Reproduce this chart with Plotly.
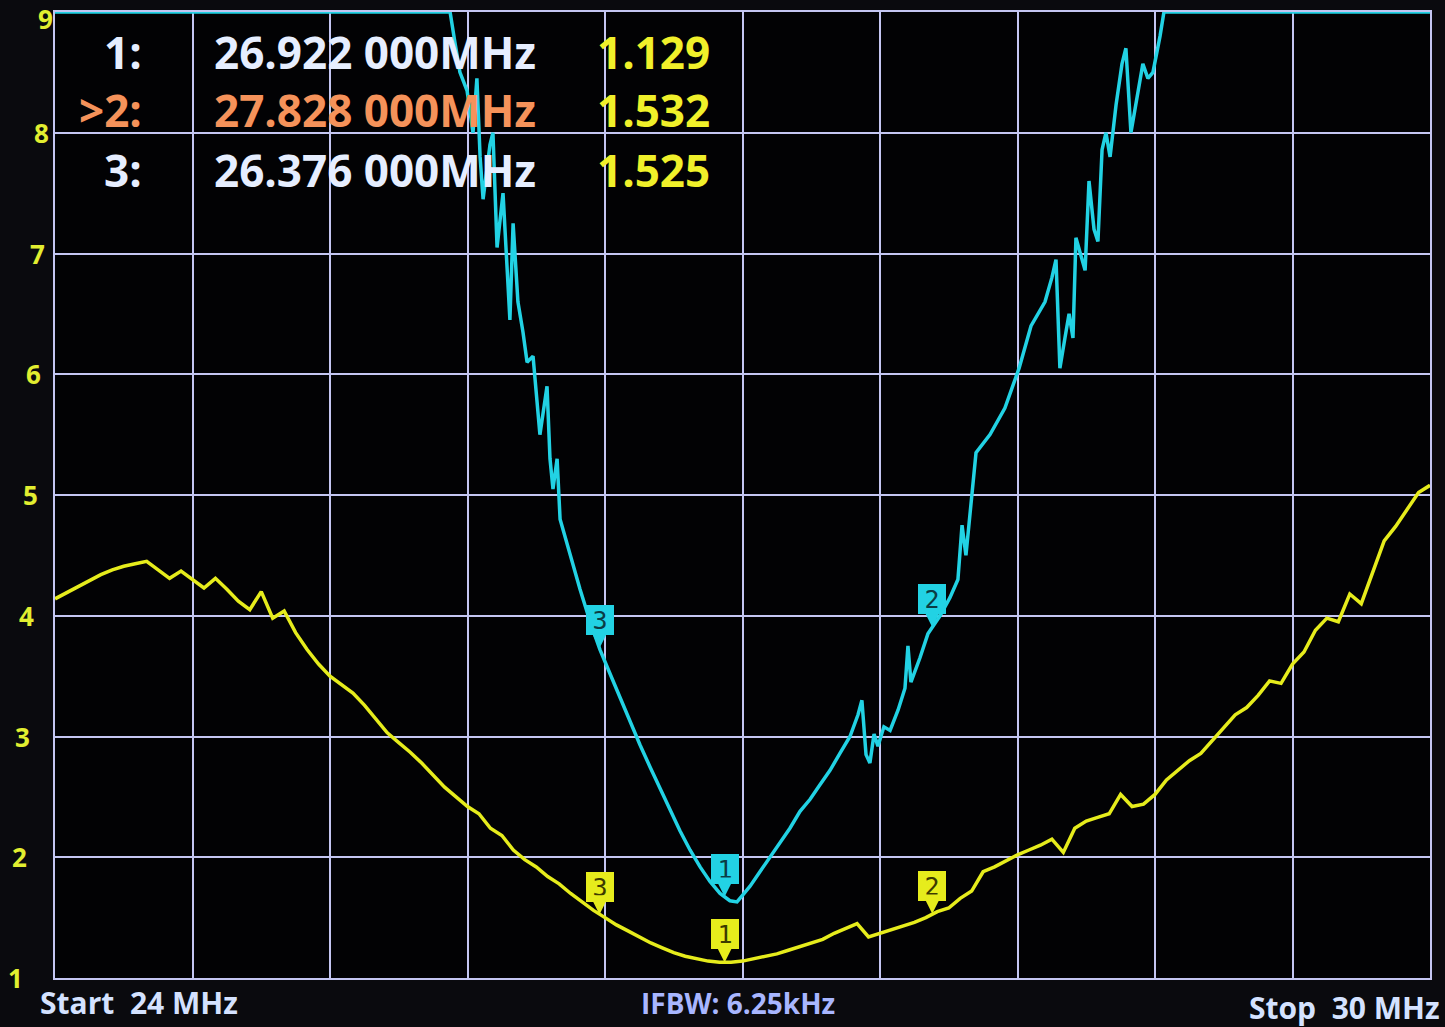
import plotly.graph_objects as go
import numpy as np

# ---------------- data ----------------
# Yellow trace (VSWR), 24-30 MHz, step 0.05 MHz
yellow_freq = [round(24 + 0.05 * i, 2) for i in range(121)]
yellow_vals = [
    4.14, 4.19, 4.24, 4.29, 4.34, 4.38, 4.41, 4.43, 4.45, 4.38,
    4.31, 4.37, 4.30, 4.23, 4.31, 4.22, 4.12, 4.05, 4.20, 3.98,
    4.04, 3.86, 3.72, 3.60, 3.50, 3.43, 3.36, 3.26, 3.15, 3.03,
    2.95, 2.87, 2.78, 2.68, 2.58, 2.50, 2.42, 2.36, 2.24, 2.18,
    2.06, 1.98, 1.92, 1.84, 1.78, 1.70, 1.63, 1.56, 1.50, 1.44,
    1.39, 1.34, 1.29, 1.25, 1.21, 1.18, 1.16, 1.14, 1.13, 1.13,
    1.14, 1.16, 1.18, 1.20, 1.23, 1.26, 1.29, 1.32, 1.37, 1.41,
    1.45, 1.34, 1.37, 1.40, 1.43, 1.46, 1.50, 1.55, 1.58, 1.66,
    1.72, 1.88, 1.92, 1.97, 2.02, 2.06, 2.10, 2.15, 2.04, 2.24,
    2.30, 2.33, 2.36, 2.52, 2.42, 2.44, 2.52, 2.64, 2.72, 2.80,
    2.86, 2.97, 3.08, 3.18, 3.24, 3.34, 3.46, 3.44, 3.60, 3.70,
    3.88, 3.98, 3.95, 4.18, 4.10, 4.36, 4.62, 4.74, 4.88, 5.02,
    5.08,
]

# Cyan trace (clipped at top of the scale)
cyan_freq = [
    24.000, 25.724, 25.745, 25.767, 25.798, 25.824, 25.841, 25.855, 25.868, 25.898,
    25.911, 25.929, 25.955, 25.972, 25.985, 25.999, 26.020, 26.042, 26.060, 26.086,
    26.103, 26.116, 26.147, 26.160, 26.173, 26.191, 26.204, 26.247, 26.291, 26.335,
    26.378, 26.422, 26.465, 26.509, 26.553, 26.596, 26.640, 26.684, 26.727, 26.771,
    26.815, 26.858, 26.902, 26.945, 26.976, 26.998, 27.033, 27.076, 27.120, 27.164,
    27.207, 27.251, 27.295, 27.338, 27.382, 27.425, 27.469, 27.504, 27.521, 27.539,
    27.556, 27.574, 27.591, 27.617, 27.644, 27.679, 27.709, 27.722, 27.735, 27.774,
    27.809, 27.862, 27.905, 27.940, 27.958, 27.975, 28.001, 28.019, 28.080, 28.145,
    28.207, 28.259, 28.320, 28.350, 28.368, 28.385, 28.407, 28.425, 28.442, 28.455,
    28.495, 28.512, 28.534, 28.551, 28.569, 28.586, 28.604, 28.630, 28.656, 28.673,
    28.695, 28.721, 28.747, 28.769, 28.791, 28.822, 28.839, 30.000,
]
cyan_vals = [
    9.00, 9.00, 8.75, 8.50, 8.35, 8.00, 8.45, 7.80, 7.45, 7.90,
    8.00, 7.05, 7.50, 6.90, 6.45, 7.25, 6.60, 6.35, 6.10, 6.15,
    5.75, 5.50, 5.90, 5.30, 5.05, 5.30, 4.80, 4.50, 4.22, 3.95,
    3.72, 3.52, 3.32, 3.12, 2.93, 2.75, 2.57, 2.40, 2.22, 2.06,
    1.92, 1.80, 1.70, 1.64, 1.63, 1.68, 1.76, 1.88, 2.00, 2.12,
    2.24, 2.38, 2.48, 2.60, 2.72, 2.86, 3.00, 3.18, 3.30, 2.85,
    2.78, 3.02, 2.92, 3.08, 3.05, 3.22, 3.40, 3.75, 3.45, 3.65,
    3.85, 4.00, 4.15, 4.30, 4.75, 4.50, 5.00, 5.35, 5.50, 5.72,
    6.05, 6.40, 6.60, 6.80, 6.95, 6.05, 6.30, 6.50, 6.30, 7.13,
    6.86, 7.60, 7.20, 7.10, 7.86, 8.00, 7.80, 8.23, 8.57, 8.70,
    8.00, 8.30, 8.57, 8.45, 8.50, 8.80, 9.00, 9.00,
]

# Markers
marker_ids = ["1", "2", "3"]
marker_freq = [26.922, 27.828, 26.376]
marker_vswr = [1.129, 1.532, 1.525]
marker_freq_text = ["26.922 000MHz", "27.828 000MHz", "26.376 000MHz"]
marker_val_text = ["1.129", "1.532", "1.525"]
active_marker = "2"

y_ticks = [1, 2, 3, 4, 5, 6, 7, 8, 9]
start_text = "Start  24 MHz"
ifbw_text = "IFBW: 6.25kHz"
stop_text = "Stop  30 MHz"

# ---------------- layout helpers ----------------
W, H = 1445, 1027
ML, MR, MT, MB = 55, 15, 10, 49
PW, PH = W - ML - MR, H - MT - MB


def px(x):
    return (x - ML) / PW


def py(y):
    return (H - MB - y) / PH


YELLOW = "#e6ec1c"
CYAN = "#22d2e4"
GRID = "#c4c6f2"
WHITE_TXT = "#e6eeff"
ORANGE = "#f5925a"
VAL_YELLOW = "#f0f02a"
TICK_YELLOW = "#e2ee30"

fig = go.Figure()

fig.add_trace(go.Scatter(x=cyan_freq, y=cyan_vals, mode="lines",
                         line=dict(color=CYAN, width=3.5), hoverinfo="skip"))
fig.add_trace(go.Scatter(x=yellow_freq, y=yellow_vals, mode="lines",
                         line=dict(color=YELLOW, width=3.5), hoverinfo="skip"))

annotations = []

# marker flags on traces (box + pointer)
cyan_at_markers = np.interp(marker_freq, cyan_freq, cyan_vals)
for mid, f, yv, cv in zip(marker_ids, marker_freq, marker_vswr, cyan_at_markers):
    for val, bg, fg in ((yv, YELLOW, "#3c3a00"), (float(cv), CYAN, "#0b3c44")):
        annotations.append(dict(
            x=f, y=val, xref="x", yref="y", text=mid,
            showarrow=True, ax=0, ay=-28, arrowhead=2, arrowsize=1.1,
            arrowwidth=3.5, arrowcolor=bg, standoff=0,
            bgcolor=bg, bordercolor=bg, borderwidth=1, borderpad=0,
            width=26, height=28,
            font=dict(family="DejaVu Sans Mono", size=25, color=fg),
        ))

# y tick labels (slightly slanted column as in the photo)
for v in y_ticks:
    annotations.append(dict(x=px(45 - 3.7 * (9 - v)), y=v, xref="paper", yref="y",
                            text=str(v), showarrow=False, xanchor="center",
                            yanchor="middle", yshift=-7 if v == 9 else 0,
                            font=dict(family="Open Sans", size=26,
                                      color=TICK_YELLOW, weight="bold")))

# header marker readout
row_y = [50, 108, 168]
for mid, ftxt, vtxt, yy in zip(marker_ids, marker_freq_text, marker_val_text, row_y):
    col = ORANGE if mid == active_marker else WHITE_TXT
    label = (">" if mid == active_marker else "") + mid + ":"
    fnt = dict(family="Open Sans", size=44, color=col, weight="bold")
    annotations.append(dict(x=px(144), y=py(yy), xref="paper", yref="paper",
                            text=label, showarrow=False, xanchor="right",
                            yanchor="middle", font=fnt))
    annotations.append(dict(x=px(212), y=py(yy), xref="paper", yref="paper",
                            text=ftxt, showarrow=False, xanchor="left",
                            yanchor="middle", font=fnt))
    annotations.append(dict(x=px(595), y=py(yy), xref="paper", yref="paper",
                            text=vtxt, showarrow=False, xanchor="left",
                            yanchor="middle",
                            font=dict(family="Open Sans", size=44,
                                      color=VAL_YELLOW, weight="bold")))

# bottom info line
annotations.append(dict(x=px(38), y=py(1003), xref="paper", yref="paper",
                        text=start_text, showarrow=False, xanchor="left",
                        yanchor="middle",
                        font=dict(family="Open Sans", size=30, color="#d4e2ff", weight="bold")))
annotations.append(dict(x=px(738), y=py(1003), xref="paper", yref="paper",
                        text=ifbw_text, showarrow=False, xanchor="center",
                        yanchor="middle",
                        font=dict(family="Open Sans", size=28, color="#a8b6ff", weight="bold")))
annotations.append(dict(x=px(1442), y=py(1008), xref="paper", yref="paper",
                        text=stop_text, showarrow=False, xanchor="right",
                        yanchor="middle",
                        font=dict(family="Open Sans", size=30, color="#d4e2ff", weight="bold")))

fig.update_layout(
    width=W, height=H,
    margin=dict(l=ML, r=MR, t=MT, b=MB),
    paper_bgcolor="#0a0a0e",
    plot_bgcolor="#020204",
    showlegend=False,
    annotations=annotations,
    xaxis=dict(range=[24, 30], tick0=24, dtick=0.6, showgrid=True,
               gridcolor=GRID, gridwidth=2, showticklabels=False, ticks="",
               zeroline=False, showline=True, linecolor=GRID, linewidth=2, mirror=True),
    yaxis=dict(range=[1, 9], tickvals=y_ticks, showgrid=True, gridcolor=GRID,
               gridwidth=2, ticks="", showticklabels=False,
               zeroline=False, showline=True, linecolor=GRID, linewidth=2, mirror=True),
)

fig.write_html("out.html", config={"displayModeBar": False},
               post_script="document.body.style.margin='0';document.body.style.background='#0a0a0e';")
